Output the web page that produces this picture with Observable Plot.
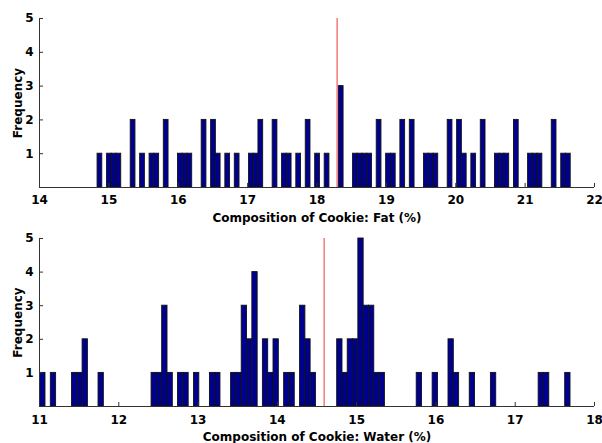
<!DOCTYPE html>
<html>
<head>
<meta charset="utf-8">
<script src="https://cdn.jsdelivr.net/npm/d3@7"></script>
<script src="https://cdn.jsdelivr.net/npm/@observablehq/plot@0.6"></script>
<style>
  html, body { margin: 0; padding: 0; background: #fff; }
  #wrap { position: relative; width: 602px; height: 443px; overflow: hidden; background: #fff; }
  #wrap > svg { position: absolute; left: 0; background: transparent !important; }
  #wrap svg text { font-family: 'DejaVu Sans', sans-serif !important; font-weight: 700 !important; font-size: 12px !important; fill: #000; }
</style>
</head>
<body>
<div id="wrap"></div>
<script>
// ---- Data ----
// Top histogram: Fat (%) — bin centers and counts (non-empty bins only)
const fatCenters = [14.871, 15.008, 15.076, 15.144, 15.349, 15.485, 15.621, 15.690, 15.826,
  16.031, 16.099, 16.167, 16.372, 16.508, 16.576, 16.713, 16.849, 17.054, 17.122, 17.190,
  17.395, 17.531, 17.599, 17.736, 17.872, 18.008, 18.145, 18.349, 18.554, 18.622, 18.690,
  18.759, 18.895, 19.031, 19.100, 19.236, 19.372, 19.577, 19.645, 19.713, 19.918, 20.054,
  20.123, 20.259, 20.395, 20.600, 20.668, 20.736, 20.873, 21.077, 21.146, 21.214, 21.418,
  21.555, 21.623];
const fatCounts = [1, 1, 1, 1, 2, 1, 1, 1, 2,
  1, 1, 1, 2, 2, 1, 1, 1, 1, 1, 2,
  2, 1, 1, 1, 2, 1, 1, 3, 1, 1, 1,
  1, 2, 1, 1, 2, 2, 1, 1, 1, 2, 2,
  1, 1, 2, 1, 1, 1, 2, 1, 1, 1, 2,
  1, 1];
const fatBinWidth = 0.0682;
const fatMean = 18.29;

// Bottom histogram: Water (%)
const waterCenters = [11.042, 11.176, 11.444, 11.511, 11.577, 11.778, 12.447, 12.514, 12.581,
  12.648, 12.781, 12.848, 12.982, 13.183, 13.249, 13.450, 13.517, 13.584, 13.651, 13.718,
  13.851, 13.918, 13.985, 14.119, 14.186, 14.320, 14.386, 14.453, 14.788, 14.855, 14.921,
  14.988, 15.055, 15.122, 15.189, 15.256, 15.323, 15.791, 15.992, 16.192, 16.259, 16.460,
  16.727, 17.329, 17.396, 17.664];
const waterCounts = [1, 1, 1, 1, 2, 1, 1, 1, 3,
  1, 1, 1, 1, 1, 1, 1, 1, 3, 2, 4,
  2, 1, 2, 1, 1, 3, 2, 1, 2, 1, 2,
  2, 5, 3, 3, 1, 1, 1, 1, 2, 1, 1,
  1, 1, 1, 1];
const waterBinWidth = 0.0669;
const waterMean = 14.59;

const fatTicks = [14, 15, 16, 17, 18, 19, 20, 21, 22];
const waterTicks = [11, 12, 13, 14, 15, 16, 17, 18];
const freqTicks = [1, 2, 3, 4, 5];

const fatLabel = "Composition of Cookie: Fat (%)";
const waterLabel = "Composition of Cookie: Water (%)";
const yLabel = "Frequency";

// ---- Drawing ----
const FONT = "'DejaVu Sans', sans-serif";
const BAR = "#00008f";
const AXIS = "#333";

function hist({centers, counts, binWidth, mean, ticks, label, height, marginBottom, tickLenX, tickPad, labelOffset}) {
  const rows = centers.map((c, i) => ({c, n: counts[i]}));
  const x0 = ticks[0], x1 = ticks[ticks.length - 1];
  const txt = {fontSize: 12, fontWeight: "bold", fontFamily: FONT, fill: "#000"};
  return Plot.plot({
    width: 602,
    height,
    marginTop: 18,
    marginBottom,
    marginLeft: 39,
    marginRight: 8,
    style: {fontFamily: FONT, fontSize: "12px", fontWeight: "bold", color: "#000", background: "transparent", overflow: "visible"},
    x: {domain: [x0, x1]},
    y: {domain: [0, 5]},
    marks: [
      Plot.rectY(rows, {
        x1: d => d.c - binWidth / 2,
        x2: d => d.c + binWidth / 2,
        y1: 0,
        y2: "n",
        fill: BAR,
        stroke: "#111",
        strokeWidth: 0.9
      }),
      Plot.ruleX([mean], {y1: 0, y2: 5, stroke: "#f25a5a", strokeWidth: 1.2}),
      Plot.ruleY([0], {x1: x0, x2: x1, stroke: AXIS}),
      Plot.ruleX([x0], {y1: 0, y2: 5, stroke: AXIS}),
      Plot.ruleX(ticks, {y1: 0, y2: 0.12, stroke: AXIS}),
      Plot.ruleY(freqTicks, {x1: x0, x2: x0 + tickLenX, stroke: AXIS}),
      Plot.axisX(ticks, {
        ...txt,
        tickSize: 0, tickPadding: tickPad, tickFormat: d => String(d),
        label, labelAnchor: "center", labelOffset, labelArrow: "none"
      }),
      Plot.axisY(freqTicks, {
        ...txt,
        tickSize: 0, tickPadding: 6, tickFormat: d => String(d),
        label: yLabel, labelAnchor: "center", labelOffset: 26, labelArrow: "none"
      })
    ]
  });
}

const wrap = document.getElementById("wrap");
const bot = hist({centers: waterCenters, counts: waterCounts, binWidth: waterBinWidth, mean: waterMean,
  ticks: waterTicks, label: waterLabel, height: 223, marginBottom: 37, tickLenX: 0.051, tickPad: 9, labelOffset: 34});
bot.style.top = "220px";
wrap.appendChild(bot);
const top1 = hist({centers: fatCenters, counts: fatCounts, binWidth: fatBinWidth, mean: fatMean,
  ticks: fatTicks, label: fatLabel, height: 222, marginBottom: 35, tickLenX: 0.058, tickPad: 8, labelOffset: 34});
top1.style.top = "0px";
wrap.appendChild(top1);
</script>
</body>
</html>
